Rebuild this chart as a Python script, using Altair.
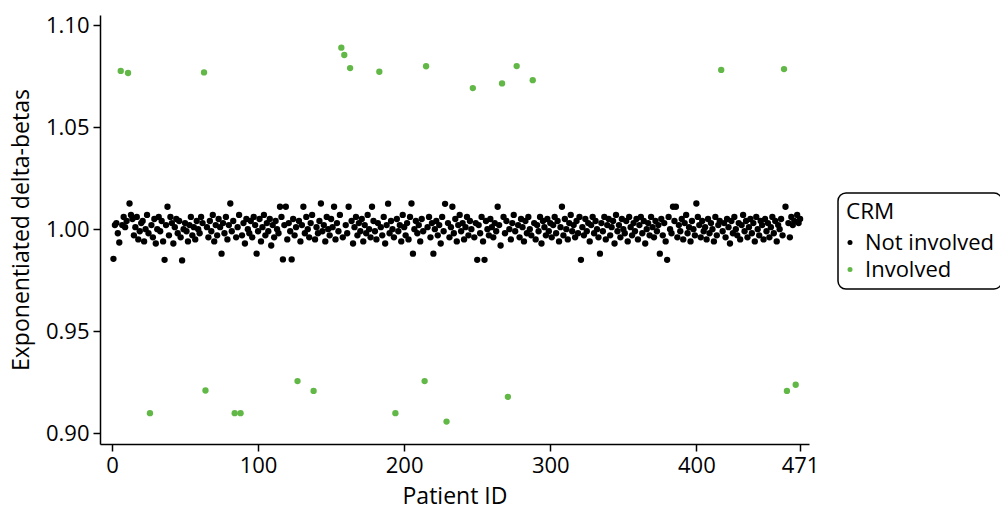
import altair as alt
import pandas as pd

patient_ids = list(range(1, 472))

delta_betas = [
    0.9855, 1.002, 1.003, 0.998, 0.9935, 1.0775, 1.002, 1.006, 1.001, 1.004,
    1.0765, 1.0126, 1.007, 1.005, 0.997, 1.001, 1.006, 0.995, 0.999, 1.003,
    1.004, 0.994, 1.000, 1.007, 0.998, 0.9099, 1.002, 0.996, 1.005, 0.993,
    1.000, 1.006, 0.999, 1.004, 0.994, 0.985, 1.002, 1.011, 0.997, 1.006,
    1.003, 0.993, 1.001, 1.005, 0.998, 1.004, 0.996, 0.9847, 1.000, 1.003,
    0.999, 0.994, 1.002, 1.006, 0.997, 1.001, 0.995, 1.004, 1.000, 0.998,
    1.006, 1.003, 1.0768, 0.9210, 1.001, 0.996, 1.004, 0.999, 1.007, 0.994,
    1.002, 0.997, 1.005, 1.001, 0.988, 1.003, 0.998, 1.006, 0.995, 1.002,
    1.0126, 0.999, 1.004, 0.9099, 0.996, 1.001, 1.007, 0.9099, 0.997, 1.003,
    0.993, 1.005, 1.000, 0.998, 1.004, 0.996, 1.006, 1.002, 0.988, 0.999,
    1.005, 0.994, 1.001, 1.007, 0.997, 1.003, 0.999, 1.005, 0.992, 1.002,
    0.996, 1.004, 1.000, 0.998, 1.011, 1.006, 0.9852, 1.002, 1.011, 0.995,
    1.003, 0.999, 0.9852, 1.005, 0.997, 1.001, 0.9256, 1.004, 0.994, 1.002,
    1.011, 0.998, 1.006, 1.000, 0.996, 1.003, 1.007, 0.9208, 0.995, 1.001,
    0.998, 1.004, 1.0126, 0.999, 1.002, 0.994, 1.006, 1.000, 0.997, 1.005,
    1.001, 1.011, 0.995, 1.003, 0.999, 1.007, 1.0889, 0.996, 1.0853, 1.002,
    0.998, 1.011, 1.0789, 1.004, 0.993, 1.001, 1.006, 0.997, 1.003, 0.999,
    1.005, 0.994, 1.002, 0.998, 1.007, 1.000, 0.996, 1.011, 1.004, 0.999,
    0.995, 1.003, 1.0771, 1.001, 0.997, 1.006, 0.993, 1.002, 1.0125, 0.998,
    1.004, 1.000, 0.996, 0.9099, 1.005, 0.999, 1.002, 0.994, 1.007, 1.001,
    0.997, 1.003, 0.995, 1.006, 1.0126, 0.988, 1.000, 1.004, 0.998, 1.002,
    0.994, 1.005, 0.999, 0.9256, 1.0798, 1.001, 1.006, 0.996, 1.003, 0.988,
    1.000, 1.004, 0.997, 1.002, 0.993, 1.006, 0.999, 1.0124, 0.9058, 1.003,
    0.996, 1.001, 1.011, 0.998, 1.005, 0.994, 1.002, 1.007, 0.999, 1.003,
    0.995, 1.001, 1.006, 0.997, 1.004, 1.000, 1.0691, 0.996, 1.003, 0.985,
    1.002, 0.998, 1.006, 0.994, 0.985, 1.004, 1.000, 0.997, 1.005, 1.001,
    0.996, 1.003, 0.999, 1.011, 1.002, 0.992, 1.0714, 1.006, 0.998, 1.004,
    0.9179, 1.000, 0.995, 1.003, 1.007, 0.999, 1.0799, 1.002, 0.996, 1.005,
    1.001, 0.994, 1.004, 0.998, 1.006, 1.000, 0.997, 1.0730, 1.003, 0.995,
    1.002, 0.999, 1.006, 0.993, 1.004, 1.001, 0.997, 1.005, 0.999, 1.003,
    0.996, 1.002, 1.006, 0.998, 1.004, 0.994, 1.001, 1.011, 0.997, 1.005,
    1.000, 0.995, 1.003, 1.007, 0.999, 1.002, 0.996, 1.004, 0.998, 1.006,
    0.985, 1.001, 0.997, 1.005, 0.999, 1.003, 0.994, 1.002, 1.006, 0.998,
    1.004, 1.000, 0.996, 0.988, 1.003, 0.999, 1.006, 0.995, 1.002, 1.005,
    0.997, 1.001, 1.004, 0.993, 1.007, 0.999, 1.002, 0.996, 1.005, 1.000,
    0.998, 1.004, 0.994, 1.006, 1.001, 0.997, 1.003, 0.999, 1.005, 0.995,
    1.002, 1.006, 0.998, 1.004, 0.993, 1.000, 1.003, 0.997, 1.006, 1.001,
    0.996, 1.004, 0.999, 1.002, 0.988, 1.005, 0.997, 1.003, 0.994, 0.985,
    1.006, 1.000, 0.998, 1.011, 1.004, 1.011, 0.996, 1.002, 0.999, 1.005,
    0.995, 1.003, 1.007, 0.998, 1.001, 0.994, 1.004, 1.000, 0.997, 1.0126,
    1.006, 1.002, 0.996, 1.004, 0.999, 1.001, 0.995, 1.005, 0.998, 1.003,
    1.000, 0.994, 1.006, 0.997, 1.002, 1.004, 1.0780, 0.999, 1.003, 0.996,
    1.005, 1.001, 0.993, 1.004, 0.998, 1.006, 1.000, 0.997, 1.003, 0.995,
    1.002, 1.007, 0.999, 1.004, 0.996, 1.001, 1.005, 0.998, 1.003, 0.994,
    1.006, 1.000, 0.997, 1.004, 1.002, 0.995, 1.005, 0.999, 1.003, 0.996,
    1.001, 1.006, 0.998, 1.004, 0.994, 1.002, 1.000, 1.005, 0.997, 1.0784,
    1.011, 0.9208, 1.003, 0.996, 1.006, 1.002, 1.004, 0.9238, 1.007, 1.003,
    1.005,
]

involved_ids = [6, 11, 26, 63, 64, 84, 88, 127, 138, 157, 159, 163, 183, 194,
                214, 215, 229, 247, 267, 271, 277, 288, 417, 460, 462, 468]

crm_levels = ["Not involved", "Involved"]
crm_colors = ["#000000", "#62b846"]

x_ticks = [0, 100, 200, 300, 400, 471]
y_ticks = [0.90, 0.95, 1.00, 1.05, 1.10]

status = ["Involved" if i in involved_ids else "Not involved" for i in patient_ids]
df = pd.DataFrame({"id": patient_ids, "value": delta_betas, "CRM": status})

FONT = "Open Sans"

chart = (
    alt.Chart(df)
    .mark_circle(size=40, opacity=1)
    .encode(
        x=alt.X(
            "id:Q",
            scale=alt.Scale(domain=[-8.2, 477.1], nice=False, zero=False),
            axis=alt.Axis(values=x_ticks, title="Patient ID", titlePadding=9),
        ),
        y=alt.Y(
            "value:Q",
            scale=alt.Scale(domain=[0.8948, 1.1049], nice=False, zero=False),
            axis=alt.Axis(values=y_ticks, format=".2f",
                          title="Exponentiated delta-betas", titlePadding=12),
        ),
        color=alt.Color(
            "CRM:N",
            scale=alt.Scale(domain=crm_levels, range=crm_colors),
            legend=alt.Legend(
                orient="none", legendX=738, legendY=178,
                title="CRM", symbolType="circle", symbolSize=25,
                symbolOffset=-7,
                padding=8, rowPadding=5, labelLimit=300, labelOffset=4,
                titlePadding=8,
                cornerRadius=8, strokeColor="black", fillColor="white",
            ),
        ),
    )
    .properties(
        width=709, height=429,
        autosize=alt.AutoSizeParams(type="none"),
        padding={"left": 100, "top": 15, "right": 191, "bottom": 65},
    )
    .configure_view(stroke=None)
    .configure_axis(
        grid=False, domainColor="black", domainWidth=1.5, tickColor="black",
        tickWidth=1.5, tickSize=7, labelFont=FONT, titleFont=FONT,
        labelFontSize=22, titleFontSize=23, titleFontWeight="normal",
        labelColor="black", titleColor="black", labelPadding=4,
    )
    .configure_legend(
        labelFont=FONT, titleFont=FONT, labelFontSize=22, titleFontSize=22.5,
        titleFontWeight="normal", labelColor="black", titleColor="black",
        strokeWidth=1.5,
    )
)

chart.save("out.html", embed_options={"renderer": "svg", "actions": False})
